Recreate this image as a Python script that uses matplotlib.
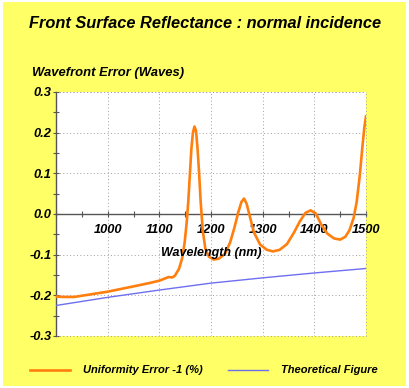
import matplotlib
matplotlib.use("Agg")
import matplotlib.pyplot as plt
from matplotlib.lines import Line2D
from matplotlib.patches import Rectangle
from matplotlib.ticker import MultipleLocator

# orange curve: uniformity error -1 (%)
wavelength = [900, 915, 935, 960, 1000, 1050, 1080, 1100, 1112, 1118, 1125, 1130,
              1138, 1144, 1149, 1153, 1156, 1159, 1162, 1165, 1168, 1171, 1174,
              1177, 1180, 1184, 1189, 1196, 1205, 1215, 1227, 1237, 1245, 1253,
              1259, 1264, 1269, 1275, 1283, 1295, 1308, 1320, 1333, 1347, 1360,
              1372, 1383, 1393, 1403, 1413, 1425, 1438, 1450, 1460, 1468, 1476,
              1482, 1488, 1493, 1497, 1500]
uniformity = [-0.203, -0.204, -0.204, -0.199, -0.191, -0.178, -0.170, -0.164, -0.158,
              -0.155, -0.156, -0.152, -0.135, -0.110, -0.070, -0.020, 0.030, 0.095,
              0.160, 0.200, 0.215, 0.205, 0.160, 0.100, 0.030, -0.040, -0.085,
              -0.105, -0.112, -0.110, -0.098, -0.070, -0.035, 0.005, 0.030, 0.038,
              0.025, -0.005, -0.045, -0.075, -0.088, -0.092, -0.088, -0.074, -0.047,
              -0.018, 0.003, 0.009, 0.001, -0.025, -0.048, -0.060, -0.063, -0.056,
              -0.040, -0.010, 0.030, 0.095, 0.165, 0.215, 0.240]

# blue curve: theoretical figure
theory_wl = [900, 1000, 1100, 1200, 1300, 1400, 1500]
theory = [-0.225, -0.205, -0.187, -0.170, -0.157, -0.145, -0.134]

x_ticks = [1000, 1100, 1200, 1300, 1400, 1500]
y_ticks = [-0.3, -0.2, -0.1, 0.0, 0.1, 0.2, 0.3]

ORANGE = "#FF7F0E"
BLUE = "#6E6EF0"
YELLOW = "#FFFF66"
GRID = "#A0A0A0"
FONT = "Liberation Sans"

fig = plt.figure(figsize=(4.09, 3.88), dpi=100, facecolor="white")
fig.patches.append(Rectangle((3 / 409, 2 / 388), 403 / 409, 384 / 388,
                             transform=fig.transFigure, facecolor=YELLOW,
                             edgecolor="none", zorder=-10))

ax = fig.add_axes([56 / 409, 1 - 336 / 388, 310 / 409, 244 / 388])
ax.set_facecolor("white")

ax.plot(theory_wl, theory, color=BLUE, lw=1.0, zorder=3)
ax.plot(wavelength, uniformity, color=ORANGE, lw=1.9, zorder=4,
        solid_joinstyle="round")

ax.set_xlim(900, 1500)
ax.set_ylim(-0.3, 0.3)

for s in ["top", "right"]:
    ax.spines[s].set_visible(False)
ax.spines["left"].set_color("#555555")
ax.spines["bottom"].set_color("#555555")
ax.spines["bottom"].set_position(("data", 0))
ax.spines["left"].set_linewidth(1.0)
ax.spines["bottom"].set_linewidth(1.0)

ax.set_xticks(x_ticks)
ax.xaxis.set_minor_locator(MultipleLocator(50))
ax.set_yticks(y_ticks)
ax.set_yticklabels([f"{v:.1f}" for v in y_ticks])
ax.yaxis.set_minor_locator(MultipleLocator(0.05))
ax.tick_params(axis="both", which="both", direction="inout", color="#555555",
               width=0.8, length=4)
ax.tick_params(axis="x", pad=5)
ax.tick_params(axis="y", pad=1)

for lab in ax.get_xticklabels() + ax.get_yticklabels():
    lab.set_fontfamily(FONT)
    lab.set_fontweight("bold")
    lab.set_fontstyle("italic")
    lab.set_fontsize(9.3)

ax.grid(True, which="major", color=GRID, linestyle=(0, (1, 2.5)), lw=0.7)
# dotted frame on top, bottom and right
ax.axhline(0.3, color=GRID, linestyle=(0, (1, 2.5)), lw=0.7, clip_on=False)
ax.axhline(-0.3, color=GRID, linestyle=(0, (1, 2.5)), lw=0.7, clip_on=False)
ax.axvline(1500, color=GRID, linestyle=(0, (1, 2.5)), lw=0.7, clip_on=False)

ax.text(1200, -0.095, "Wavelength (nm)", ha="center", va="center",
        fontsize=9, fontweight="bold", fontstyle="italic", family=FONT,
        zorder=5)

fig.text(0.501, 1 - 24 / 388, "Front Surface Reflectance : normal incidence",
         ha="center", va="center", fontsize=11.8, fontweight="bold",
         fontstyle="italic", family=FONT)
fig.text(32 / 409, 1 - 73 / 388, "Wavefront Error (Waves)", ha="left",
         va="center", fontsize=9.4, fontweight="bold", fontstyle="italic",
         family=FONT)

# legend
ly = 1 - 370 / 388
fig.lines.append(Line2D([30 / 409, 70 / 409], [ly, ly], color=ORANGE, lw=1.9,
                        transform=fig.transFigure))
fig.text(83 / 409, ly, "Uniformity Error -1 (%)", ha="left", va="center",
         fontsize=8, fontweight="bold", fontstyle="italic", family=FONT)
fig.lines.append(Line2D([228 / 409, 268 / 409], [ly, ly], color=BLUE, lw=1.0,
                        transform=fig.transFigure))
fig.text(281 / 409, ly, "Theoretical Figure", ha="left", va="center",
         fontsize=8, fontweight="bold", fontstyle="italic", family=FONT)

fig.savefig("out.png", dpi=100, facecolor="white")
